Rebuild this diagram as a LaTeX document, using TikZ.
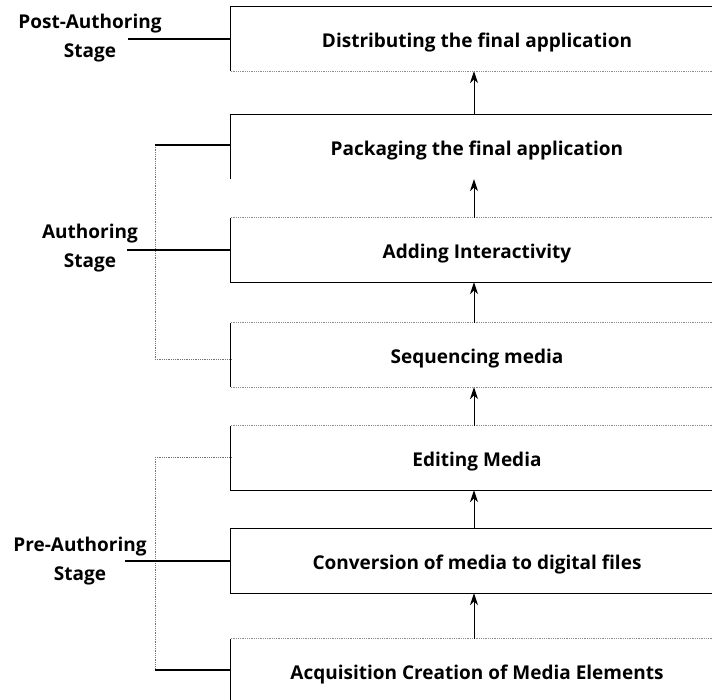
\documentclass[tikz,border=0pt]{standalone}
\usepackage{fontspec}
\setmainfont{Open Sans}
\usetikzlibrary{arrows.meta}

% lower the step text a little inside its box, keeping the box itself in place
\newcommand{\steptext}[1]{\raisebox{-4pt}[\height][\depth]{#1}}

\tikzset{
  stagebox/.style={minimum width=492pt, minimum height=64pt, inner sep=0pt,
    font=\fontsize{19}{22}\selectfont\bfseries},
  stagelabel/.style={align=center, inner sep=0pt,
    font=\fontsize{19}{29}\selectfont\bfseries},
  solidedge/.style={draw=black, line width=1.3pt},
  faintedge/.style={draw=black!45, line width=0.8pt, densely dotted},
  flow/.style={draw=black, line width=1pt, -{Stealth[length=12pt,width=8pt]}},
  bracketline/.style={draw=black!55, line width=0.8pt, densely dotted},
  stemline/.style={draw=black, line width=1.1pt}
}

\begin{document}
\begin{tikzpicture}[x=1pt, y=-1pt]
\useasboundingbox (0,0) rectangle (712,699);
\clip (0,0) rectangle (712,699);

% the seven steps, bottom to top of the process
\node[stagebox] (b1) at (477,39)  {\steptext{Distributing the final application}};
\node[stagebox] (b2) at (477,147) {\steptext{Packaging the final application}};
\node[stagebox] (b3) at (477,250) {\steptext{Adding Interactivity}};
\node[stagebox] (b4) at (477,355) {\steptext{Sequencing media}};
\node[stagebox] (b5) at (477,458) {\steptext{Editing Media}};
\node[stagebox] (b6) at (477,561) {\steptext{Conversion of media to digital files}};
\node[stagebox] (b7) at (477,671) {\steptext{Acquisition Creation of Media Elements}};

% box outlines (open towards the right)
\draw[solidedge] (b1.north east) -- (b1.north west) -- (b1.south west);
\draw[faintedge] (b1.south west) -- (b1.south east);

\draw[solidedge] (b2.north east) -- (b2.north west) -- (b2.south west);

\draw[faintedge] (b3.north west) -- (b3.north east);
\draw[solidedge] (b3.north west) -- (b3.south west) -- (b3.south east);

\draw[faintedge] (b4.north west) -- (b4.north east);
\draw[solidedge] (b4.north west) -- (b4.south west);
\draw[faintedge] (b4.south west) -- (b4.south east);

\draw[faintedge] (b5.north west) -- (b5.north east);
\draw[solidedge] (b5.north west) -- (b5.south west) -- (b5.south east);

\draw[solidedge] (b6.north east) -- (b6.north west) -- (b6.south west) -- (b6.south east);

\draw[faintedge] (b7.north west) -- (b7.north east);
\draw[solidedge] (b7.north west) -- (b7.south west);

% upward flow between the steps
\foreach \lo/\hi in {b2/b1, b3/b2, b4/b3, b5/b4, b6/b5, b7/b6}
  \draw[flow] ([xshift=-3pt]\lo.north) -- ([xshift=-3pt]\hi.south);

% stage labels
\node[stagelabel] (post) at (90,38)  {Post-Authoring\\Stage};
\node[stagelabel] (auth) at (90,248) {Authoring\\Stage};
\node[stagelabel] (pre)  at (80,561) {Pre-Authoring\\Stage};

\coordinate (poststem) at (128,39);
\coordinate (authstem) at (127,250);
\coordinate (prestem)  at (125,561);

\coordinate (authtop) at (155,145);
\coordinate (authbot) at (155,359);
\coordinate (pretop)  at (155,457);
\coordinate (prebot)  at (155,670);

% post-authoring link
\draw[stemline] (poststem) -- (b1.west);

% authoring bracket
\draw[bracketline] (authtop) -- (authbot);
\draw[stemline] (authtop) -- (authtop -| b2.west);
\draw[stemline] (authstem) -- (b3.west);
\draw[bracketline] (authbot) -- (authbot -| b4.west);

% pre-authoring bracket
\draw[bracketline] (pretop) -- (prebot);
\draw[bracketline] (pretop) -- (pretop -| b5.west);
\draw[stemline] (prestem) -- (b6.west);
\draw[stemline] (prebot) -- (prebot -| b7.west);
\end{tikzpicture}
\end{document}
